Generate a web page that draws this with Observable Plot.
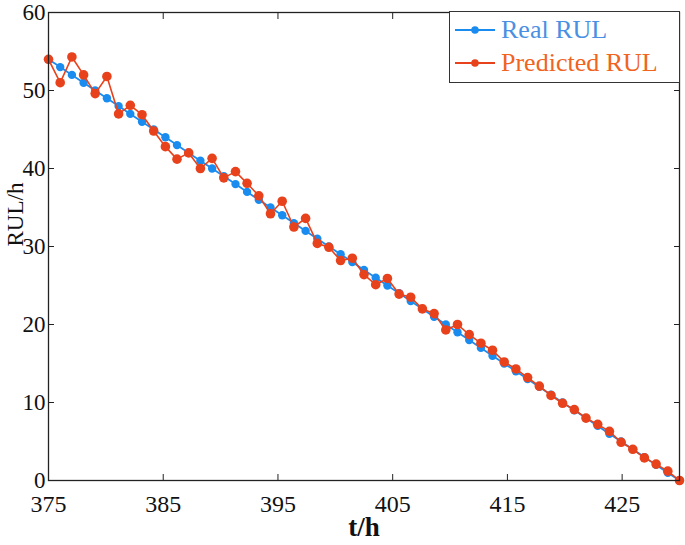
<!DOCTYPE html>
<html>
<head>
<meta charset="utf-8">
<script src="https://cdn.jsdelivr.net/npm/d3@7"></script>
<script src="https://cdn.jsdelivr.net/npm/@observablehq/plot@0.6"></script>
<style>
  html, body { margin: 0; padding: 0; background: #fff; }
  #wrap { position: relative; width: 685px; height: 545px; font-family: "Liberation Serif", "DejaVu Serif", serif; }
  #legend { position: absolute; left: 449px; top: 11px; width: 231px; height: 72px; background: #fff; border: 1px solid #333; box-sizing: border-box; }
  .li { position: absolute; left: 3px; display: flex; align-items: center; font-size: 26px; line-height: 28px; }
  .li svg { margin-right: 4px; }
</style>
</head>
<body>
<div id="wrap"></div>
<script>
// time (h) of each sample
const time = [375, 376.02, 377.04, 378.06, 379.07, 380.09, 381.11, 382.13, 383.15, 384.17, 385.19, 386.2, 387.22, 388.24, 389.26, 390.28, 391.3, 392.31, 393.33, 394.35, 395.37, 396.39, 397.41, 398.43, 399.44, 400.46, 401.48, 402.5, 403.52, 404.54, 405.56, 406.57, 407.59, 408.61, 409.63, 410.65, 411.67, 412.69, 413.7, 414.72, 415.74, 416.76, 417.78, 418.8, 419.81, 420.83, 421.85, 422.87, 423.89, 424.91, 425.93, 426.94, 427.96, 428.98, 430];
// real remaining useful life (h)
const realRUL = [54, 53, 52, 51, 50, 49, 48, 47, 46, 45, 44, 43, 42, 41, 40, 39, 38, 37, 36, 35, 34, 33, 32, 31, 30, 29, 28, 27, 26, 25, 24, 23, 22, 21, 20, 19, 18, 17, 16, 15, 14, 13, 12, 11, 10, 9, 8, 7, 6, 5, 4, 3, 2, 1, 0];
// predicted remaining useful life (h)
const predictedRUL = [54, 51.0, 54.3, 52.0, 49.6, 51.8, 47.0, 48.1, 46.9, 44.8, 42.8, 41.2, 42.0, 40.0, 41.3, 38.8, 39.6, 38.1, 36.5, 34.2, 35.8, 32.5, 33.6, 30.4, 29.9, 28.2, 28.5, 26.4, 25.1, 25.9, 23.9, 23.5, 22.0, 21.4, 19.3, 20.0, 18.7, 17.6, 16.7, 15.2, 14.3, 13.2, 12.1, 10.9, 9.9, 9.1, 8.0, 7.2, 6.3, 4.9, 4.0, 2.9, 2.1, 1.2, 0];
const xTicks = [375, 385, 395, 405, 415, 425];
const yTicks = [0, 10, 20, 30, 40, 50, 60];
const seriesNames = ["Real RUL", "Predicted RUL"];
const lineColors = ["#1a8cf0", "#e8421c"];
const textColors = ["#4a90e2", "#f0641e"];

const realData = time.map((t, i) => ({t, v: realRUL[i]}));
const predData = time.map((t, i) => ({t, v: predictedRUL[i]}));

const chart = Plot.plot({
  width: 685,
  height: 545,
  marginLeft: 48,
  marginRight: 6,
  marginTop: 12,
  marginBottom: 65,
  style: {fontFamily: "Liberation Serif, DejaVu Serif, serif", background: "#fff", color: "#111"},
  x: {domain: [375, 430]},
  y: {domain: [0, 60]},
  marks: [
    Plot.line(realData, {x: "t", y: "v", stroke: lineColors[0], strokeWidth: 1.8}),
    Plot.dot(realData, {x: "t", y: "v", r: 4.2, fill: lineColors[0], stroke: "none"}),
    Plot.line(predData, {x: "t", y: "v", stroke: lineColors[1], strokeWidth: 1.6}),
    Plot.dot(predData, {x: "t", y: "v", r: 4.8, fill: lineColors[1], stroke: "none"}),
    Plot.frame({stroke: "#222", strokeWidth: 1.3}),
    Plot.axisX(xTicks, {anchor: "bottom", tickSize: -6, tickPadding: 20, fontSize: 24, label: null, stroke: "#222"}),
    Plot.axisX(xTicks, {anchor: "top", tickSize: -6, tickFormat: () => "", label: null, stroke: "#222"}),
    Plot.axisY(yTicks, {anchor: "left", tickSize: -6, tickPadding: 9, fontSize: 23, label: null, stroke: "#222"}),
    Plot.axisY(yTicks, {anchor: "right", tickSize: -6, tickFormat: () => "", label: null, stroke: "#222"}),
    Plot.text(["t/h"], {frameAnchor: "bottom", dy: 55, fontSize: 27, fontWeight: "bold", fill: "#111"}),
    Plot.text(["RUL/h"], {frameAnchor: "left", dx: -33, rotate: -90, fontSize: 23, fill: "#111"})
  ]
});

const wrap = document.getElementById("wrap");
wrap.appendChild(chart);

const legend = document.createElement("div");
legend.id = "legend";
seriesNames.forEach((name, i) => {
  const item = document.createElement("div");
  item.className = "li";
  item.style.top = (i === 0 ? 4 : 37) + "px";
  item.innerHTML = `<svg width="44" height="12"><line x1="2" y1="6" x2="42" y2="6" stroke="${lineColors[i]}" stroke-width="1.8"/><circle cx="22" cy="6" r="3.8" fill="${lineColors[i]}"/></svg><span style="color:${textColors[i]}">${name}</span>`;
  legend.appendChild(item);
});
wrap.appendChild(legend);
</script>
</body>
</html>
